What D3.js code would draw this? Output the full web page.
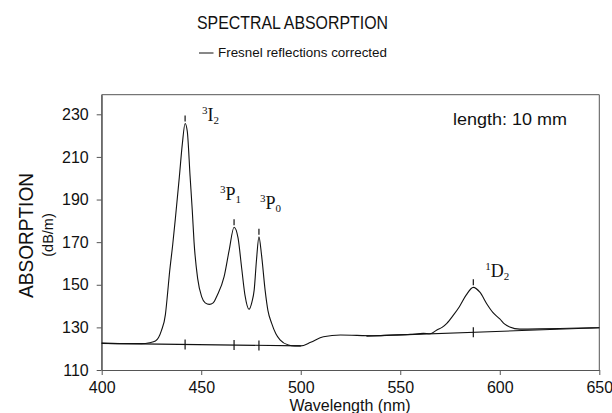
<!DOCTYPE html>
<html>
<head>
<meta charset="utf-8">
<script src="https://cdn.jsdelivr.net/npm/d3@7"></script>
<style>
  body { margin: 0; background: #fff; }
  svg { display: block; }
  .sans { font-family: "Liberation Sans", Arial, sans-serif; fill: #111; }
  .serif { font-family: "Liberation Serif", "Times New Roman", serif; fill: #111; }
</style>
</head>
<body>
<div id="chart"></div>
<script>
// measured spectrum (wavelength nm, absorption dB/m)
const wavelength = [400, 410, 420, 424, 427, 430, 432, 433, 434, 435.7, 437, 439, 440.5, 441.9,
  443, 444.4, 445.5, 446.4, 448.2, 450.2, 452, 454.1, 456, 458, 461.5, 464, 466.5, 468.5, 470.3,
  472, 474, 475.5, 476.6, 477.8, 479, 480.3, 482.1, 483.5, 485.4, 487.5, 489.6, 493.8, 497, 500,
  505, 511.4, 520, 536.5, 545, 555, 561.6, 565, 568.4, 571, 573.4, 576.5, 579.7, 583, 586.7,
  590, 593.5, 596.5, 600, 602.5, 605, 610, 620, 630, 640, 650];
const absorption = [122.6, 122.4, 122.4, 122.8, 123.6, 128.5, 136, 145, 155, 169, 181, 200.5, 216, 225.7,
  222, 201, 185, 170, 153, 144.4, 141.5, 140.8, 141.5, 145, 153.8, 166, 177, 172, 158,
  145, 138.5, 142, 147.5, 162, 172.5, 164, 147.5, 138, 131.9, 127, 124.1, 121.7, 121.3, 121.3,
  123, 125.6, 126.4, 126.1, 126.4, 126.7, 127.2, 127, 128.8, 130, 131.9, 135.5, 139.7, 145, 148.8,
  146.5, 141, 137, 134, 131.5, 130.2, 129.2, 129.3, 129.5, 129.7, 129.8];

// straight background lines under the bands
const base1Wl = [400, 500];
const base1Abs = [122.5, 121.3];
const base2Wl = [533, 650];
const base2Abs = [125.9, 129.8];

// absorption bands
const peakWl = [441.9, 466.5, 479, 586.7];
const peakAbs = [225.7, 177, 172.5, 148.8];
const peakSup = ['3', '3', '3', '1'];
const peakTerm = ['I', 'P', 'P', 'D'];
const peakSub = ['2', '1', '0', '2'];

const xTicks = [400, 450, 500, 550, 600, 650];
const yTicks = [110, 130, 150, 170, 190, 210, 230];

// label placement relative to the peak (px)
const labelDx = [17, -14, 1, 12];
const labelDy = [-2, -27, -28, -10];

const W = 612, H = 413;
const margin = { top: 94.7, right: 12.7, bottom: 43, left: 101.7 };

const svg = d3.select('#chart').append('svg')
  .attr('width', W)
  .attr('height', H);

svg.append('rect').attr('width', W).attr('height', H).attr('fill', '#fff');

const x = d3.scaleLinear().domain([400, 650]).range([margin.left, W - margin.right]);
const y = d3.scaleLinear().domain([110, 239.2]).range([H - margin.bottom, margin.top]);

// frame (top, right, left)
svg.append('path')
  .attr('d', `M${x(400)},${y(110)}V${margin.top}H${x(650)}V${y(110)}`)
  .attr('fill', 'none')
  .attr('stroke', '#555')
  .attr('stroke-width', 1);

const xAxis = svg.append('g')
  .attr('transform', `translate(0,${y(110)})`)
  .call(d3.axisBottom(x).tickValues(xTicks).tickSize(5).tickPadding(7).tickSizeOuter(0));
const yAxis = svg.append('g')
  .attr('transform', `translate(${x(400)},0)`)
  .call(d3.axisLeft(y).tickValues(yTicks).tickSize(5).tickPadding(8).tickSizeOuter(0));

[xAxis, yAxis].forEach(g => {
  g.select('.domain').attr('stroke', '#555');
  g.selectAll('.tick line').attr('stroke', '#555');
  g.selectAll('.tick text')
    .attr('class', 'sans')
    .attr('font-size', 16)
    .attr('fill', '#111');
});

// baselines
const line = d3.line().x(d => x(d[0])).y(d => y(d[1]));
svg.append('path')
  .attr('d', line(d3.zip(base1Wl, base1Abs)))
  .attr('fill', 'none').attr('stroke', '#111').attr('stroke-width', 1.1);
svg.append('path')
  .attr('d', line(d3.zip(base2Wl, base2Abs)))
  .attr('fill', 'none').attr('stroke', '#111').attr('stroke-width', 1.1);

// spectrum
svg.append('path')
  .attr('d', line.curve(d3.curveMonotoneX)(d3.zip(wavelength, absorption)))
  .attr('fill', 'none')
  .attr('stroke', '#111')
  .attr('stroke-width', 1.1);

// band markers: tick above each peak and crossing tick on the baseline
const base1 = d3.scaleLinear().domain(base1Wl).range(base1Abs);
const base2 = d3.scaleLinear().domain(base2Wl).range(base2Abs);
peakWl.forEach((wl, i) => {
  const px = x(wl), py = y(peakAbs[i]);
  svg.append('line')
    .attr('x1', px).attr('x2', px)
    .attr('y1', py - 8).attr('y2', py - 2)
    .attr('stroke', '#111').attr('stroke-width', 1.2);
  const b = y(wl < 510 ? base1(wl) : base2(wl));
  svg.append('line')
    .attr('x1', px).attr('x2', px)
    .attr('y1', b - 5).attr('y2', b + 5)
    .attr('stroke', '#111').attr('stroke-width', 1.2);

  const t = svg.append('text')
    .attr('class', 'serif')
    .attr('x', px + labelDx[i])
    .attr('y', py + labelDy[i]);
  t.append('tspan').attr('font-size', 11).attr('dy', -7).text(peakSup[i]);
  t.append('tspan').attr('font-size', 18).attr('dy', 7).text(peakTerm[i]);
  t.append('tspan').attr('font-size', 11).attr('dy', 3).text(peakSub[i]);
});

// titles and notes
svg.append('text')
  .attr('class', 'sans')
  .attr('x', 292.5).attr('y', 28.5)
  .attr('text-anchor', 'middle')
  .attr('font-size', 18.5)
  .attr('textLength', 191).attr('lengthAdjust', 'spacingAndGlyphs')
  .text('SPECTRAL ABSORPTION');

svg.append('line')
  .attr('x1', 199).attr('x2', 213.5)
  .attr('y1', 53).attr('y2', 53)
  .attr('stroke', '#111').attr('stroke-width', 1);
svg.append('text')
  .attr('class', 'sans')
  .attr('x', 218).attr('y', 57)
  .attr('font-size', 13.5)
  .attr('textLength', 169).attr('lengthAdjust', 'spacingAndGlyphs')
  .text('Fresnel reflections corrected');

svg.append('text')
  .attr('class', 'sans')
  .attr('x', 453).attr('y', 125)
  .attr('font-size', 16)
  .attr('textLength', 114).attr('lengthAdjust', 'spacingAndGlyphs')
  .text('length: 10 mm');

svg.append('text')
  .attr('class', 'sans')
  .attr('transform', 'translate(33,235.5) rotate(-90)')
  .attr('text-anchor', 'middle')
  .attr('font-size', 21)
  .attr('textLength', 125).attr('lengthAdjust', 'spacingAndGlyphs')
  .text('ABSORPTION');
svg.append('text')
  .attr('class', 'sans')
  .attr('transform', 'translate(53,235) rotate(-90)')
  .attr('text-anchor', 'middle')
  .attr('font-size', 14.5)
  .text('(dB/m)');

svg.append('text')
  .attr('class', 'sans')
  .attr('x', 350).attr('y', 411)
  .attr('text-anchor', 'middle')
  .attr('font-size', 16)
  .text('Wavelength (nm)');
</script>
</body>
</html>
